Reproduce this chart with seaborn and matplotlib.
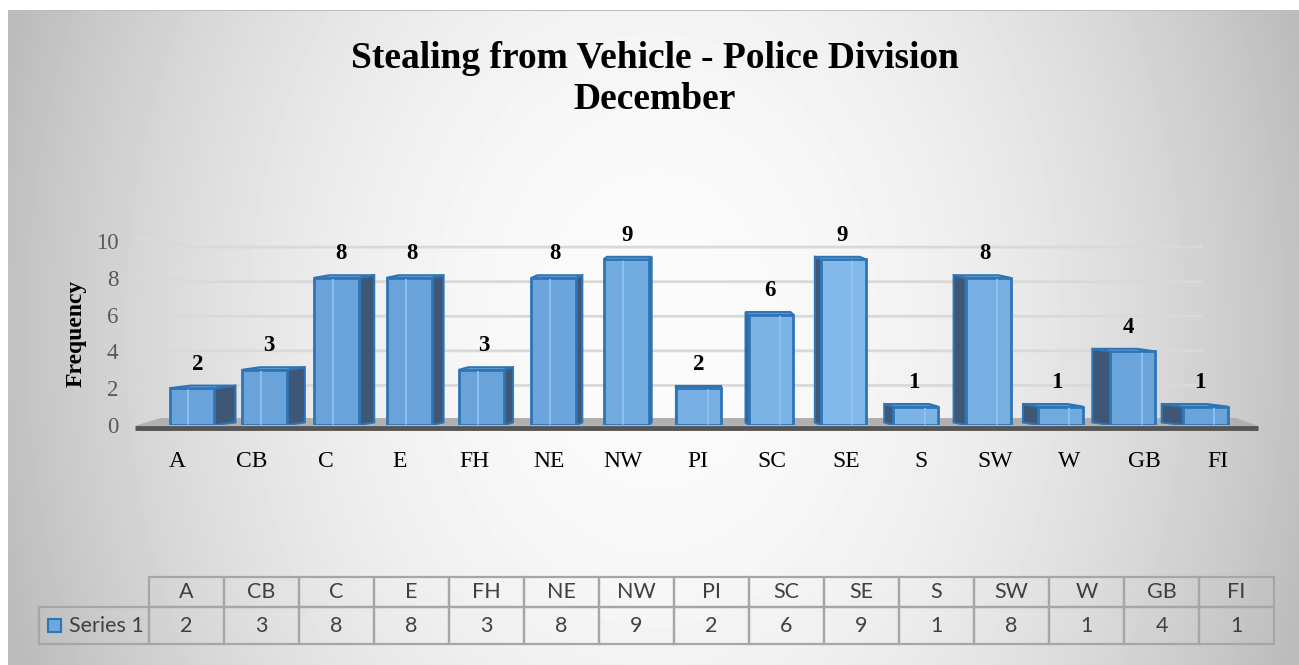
import numpy as np
import matplotlib
matplotlib.use('Agg')
import matplotlib.pyplot as plt
from matplotlib.patches import Polygon, Rectangle
from matplotlib.colors import to_rgb
import seaborn as sns

# chart data
divisions = ['A', 'CB', 'C', 'E', 'FH', 'NE', 'NW', 'PI', 'SC', 'SE', 'S', 'SW', 'W', 'GB', 'FI']
counts = [2, 3, 8, 8, 3, 8, 9, 2, 6, 9, 1, 8, 1, 4, 1]
y_ticks = [0, 2, 4, 6, 8, 10]
title = 'Stealing from Vehicle - Police Division\nDecember'
y_label = 'Frequency'
series_name = 'Series 1'

W, H = 1299, 665
FRONT = '#6ea7dd'
FRONT_DARK = '#69a3d9'
FRONT_LIGHT = '#82b9ea'
EDGE = '#2e75b6'
SIDE = '#3f5776'
GRID = '#d9d9d9'

sns.set_theme(style='white')
plt.rcParams['font.family'] = ['Liberation Serif', 'DejaVu Serif']


def px_box(left, top, right, bottom):
    return [left / W, 1 - bottom / H, (right - left) / W, (bottom - top) / H]


# lighting on the bar fronts, brightest right of centre
dark, light = np.array(to_rgb(FRONT_DARK)), np.array(to_rgb(FRONT_LIGHT))
front_colors = [tuple(dark + (light - dark) * max(0.0, 1 - abs(i - 9) / 4.5))
                for i in range(len(divisions))]

fig = plt.figure(figsize=(W / 100, H / 100), dpi=100)
fig.patch.set_facecolor('white')

# radial grey background of the chart area
bg = fig.add_axes([0, 0, 1, 1], zorder=-10)
bg.set_axis_off()
xx, yy = np.meshgrid(np.arange(W), np.arange(H))
r2 = ((xx - 655) / 680.0) ** 2 + ((yy - 330) / 900.0) ** 2
shade = np.clip(251 - 64 * r2, 188, 251) / 255.0
shade[:10, :] = 1.0
shade[:, :8] = 1.0
shade[10, 8:] = 0.74
bg.imshow(shade, cmap='gray', vmin=0, vmax=1, extent=(0, W, H, 0), aspect='auto',
          interpolation='nearest')
bg.set_xlim(0, W)
bg.set_ylim(H, 0)

# main plot area
ax = fig.add_axes(px_box(135, 226.3, 1258, 425))
ax.patch.set_alpha(0)
sns.barplot(x=divisions, y=counts, hue=divisions, palette=front_colors, legend=False,
            saturation=1, width=0.62, edgecolor=EDGE, linewidth=2, zorder=3, ax=ax)
bars = sorted([p for p in ax.patches if isinstance(p, Rectangle)], key=lambda p: p.get_x())

x_left, x_right = -0.788, 14.73
ax.set_xlim(x_left, x_right)
ax.set_ylim(0, 10.8)
for s in ax.spines.values():
    s.set_visible(False)

# back wall gridlines with the left wall bend
for v in y_ticks[1:]:
    back = 0.27 + 0.94 * v
    ax.plot([x_left, 0.04, 13.96], [v * 1.02 + 0.04, back, back],
            color=GRID, lw=2, zorder=1, solid_capstyle='butt')

# floor
ax.add_patch(Polygon([(x_left, -0.05), (x_right, -0.05), (x_right - 0.3, 0.38), (x_left + 0.35, 0.38)],
                     closed=True, facecolor='#b0b0b0', edgecolor='none', zorder=1.5,
                     clip_on=False))
ax.plot([x_left, x_right], [-0.14, -0.14], color='#555555', lw=3.5, zorder=1.6,
        solid_capstyle='butt', clip_on=False)

# 3d side and top faces
mid = (len(divisions) - 1) / 2
rise = 0.14
for i, bar in enumerate(bars):
    xl = bar.get_x()
    xr = xl + bar.get_width()
    h = bar.get_height()
    d = abs(i - mid) * 0.0415
    if i < mid:
        side = [(xr, 0), (xr + d, rise), (xr + d, h + rise), (xr, h)]
        top = [(xl, h), (xr, h), (xr + d, h + rise), (xl + d, h + rise)]
        lx = (xl + xr) / 2 + d / 4
        bevel = xl + 0.42 * (xr - xl)
    else:
        side = [(xl, 0), (xl - d, rise), (xl - d, h + rise), (xl, h)]
        top = [(xl, h), (xr, h), (xr - d, h + rise), (xl - d, h + rise)]
        lx = (xl + xr) / 2 - d / 4
        bevel = xl + 0.7 * (xr - xl)
    ax.add_patch(Polygon(side, closed=True, facecolor=SIDE, edgecolor=EDGE, lw=1.5, zorder=2))
    ax.add_patch(Polygon(top, closed=True, facecolor='#8dbce9', edgecolor=EDGE, lw=1.5, zorder=3.5))
    ax.plot([bevel] * 2, [0.08, h - 0.08], color='#93c4f0', lw=1.2, zorder=3.2)
    ax.text(lx, h + 1.3, str(counts[i]), ha='center', va='center', fontsize=16.5,
            fontweight='bold', color='black', zorder=4)

idx = np.arange(len(divisions))
ax.set_xticks(idx + (idx - 7.5) * 0.028, divisions)
ax.set_yticks(y_ticks)
ax.tick_params(axis='x', length=0, pad=19, labelsize=17, labelcolor='black')
ax.tick_params(axis='y', length=0, pad=12, labelsize=16.5, labelcolor='#595959')
ax.set_xlabel('')
ax.set_ylabel(y_label, fontsize=17, fontweight='bold', color='black')
ax.yaxis.set_label_coords(-0.0427, 0.46)

fig.text(655 / W, 1 - 79 / H, title, ha='center', va='center', fontsize=27,
         fontweight='bold', linespacing=1.2, color='black')

# data table under the chart
tax = fig.add_axes(px_box(39, 577, 1274, 644))
tax.set_axis_off()
table = tax.table(cellText=[[''] + divisions, [series_name] + [str(c) for c in counts]],
                  cellLoc='center',
                  colWidths=[110 / 1235] + [75 / 1235] * len(divisions),
                  bbox=[0, 0, 1, 1])
table.auto_set_font_size(False)
table.set_fontsize(15.5)
for (r, c), cell in table.get_celld().items():
    cell.set_facecolor('none')
    cell.set_edgecolor('#a6a6a6')
    cell.set_linewidth(1.6)
    cell.set_height(30 / 67 if r == 0 else 37 / 67)
    cell.get_text().set_fontfamily('Lato')
    cell.get_text().set_color('#404040')
    if c == 0:
        cell.get_text().set_horizontalalignment('right')
        cell.PAD = 0.05
        if r == 0:
            cell.set_edgecolor('none')

fig.patches.append(Rectangle((48 / W, 1 - 632 / H), 13 / W, 13 / H, transform=fig.transFigure,
                             facecolor=FRONT, edgecolor=EDGE, lw=1.5))

fig.savefig('out.png', dpi=100)
